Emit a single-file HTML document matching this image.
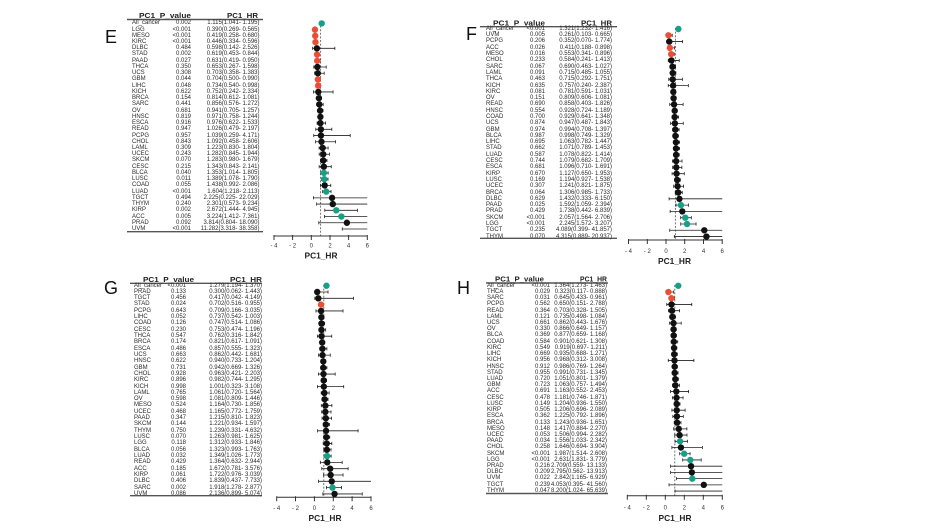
<!DOCTYPE html>
<html><head><meta charset="utf-8">
<style>
body{margin:0;background:#fff;width:941px;height:530px;overflow:hidden;position:relative;font-family:"Liberation Sans",Arial,sans-serif}
svg{position:absolute;left:0;top:0}
.c{position:absolute;font-size:6px;color:#2a2a2a;white-space:nowrap}
.r{text-align:right;width:90px}
.b{fill:none;stroke:#222;stroke-width:.8;vector-effect:non-scaling-stroke}
.ax{stroke:#333;stroke-width:1;fill:none}
.tl{stroke:#555;stroke-width:1.4}
.ds{stroke:#666;stroke-width:.9;stroke-dasharray:2 1.6}
.tk{font-size:6px;fill:#333;text-anchor:middle}
.lb{font-size:8.5px;font-weight:bold;fill:#222;text-anchor:middle}
.hd{font-size:7.5px;font-weight:bold;fill:#222}
.L{font-size:18px;fill:#111}
</style></head><body>
<svg width="941" height="530" viewBox="0 0 941 530">
<defs>
<ellipse id="dE" cx="0" cy="0" rx=".343" ry=".514"/>
<ellipse id="dF" cx="0" cy="0" rx=".3415" ry=".509"/>
<ellipse id="dG" cx="0" cy="0" rx=".339" ry=".507"/>
<ellipse id="dH" cx="0" cy="0" rx=".337" ry=".514"/>
</defs>
<rect width="941" height="530" fill="#fff"/>

<!-- Letters -->
<text class="L" x="105" y="43">E</text>
<text class="L" x="466" y="40">F</text>
<text class="L" x="104" y="294">G</text>
<text class="L" x="457" y="294">H</text>

<!-- Table headers & lines -->
<text class="hd" x="139" y="18" textLength="52" lengthAdjust="spacingAndGlyphs">PC1_P_value</text>
<text class="hd" x="227" y="18" textLength="31" lengthAdjust="spacingAndGlyphs">PC1_HR</text>
<line class="tl" x1="127" y1="19.5" x2="263" y2="19.5"/>
<line class="tl" x1="127" y1="231.7" x2="263" y2="231.7"/>

<text class="hd" x="493" y="25.5" textLength="52" lengthAdjust="spacingAndGlyphs">PC1_P_value</text>
<text class="hd" x="581" y="25.5" textLength="31" lengthAdjust="spacingAndGlyphs">PC1_HR</text>
<line class="tl" x1="480" y1="26.7" x2="617" y2="26.7"/>
<line class="tl" x1="480" y1="238.3" x2="617" y2="238.3"/>

<text class="hd" x="143" y="282" textLength="51" lengthAdjust="spacingAndGlyphs">PC1_P_value</text>
<text class="hd" x="230" y="282" textLength="32" lengthAdjust="spacingAndGlyphs">PC1_HR</text>
<line class="tl" x1="130" y1="283.3" x2="262" y2="283.3"/>
<line class="tl" x1="130" y1="495.7" x2="262" y2="495.7"/>

<text class="hd" x="495" y="281.5" textLength="49" lengthAdjust="spacingAndGlyphs">PC1_P_value</text>
<text class="hd" x="580" y="281.5" textLength="27" lengthAdjust="spacingAndGlyphs">PC1_HR</text>
<line class="tl" x1="486" y1="283" x2="608" y2="283"/>
<line class="tl" x1="486" y1="493.5" x2="608" y2="493.5"/>

<!-- Dashed reference lines -->
<line class="ds" x1="320.6" y1="22" x2="320.6" y2="236"/>
<line class="ds" x1="675.4" y1="28" x2="675.4" y2="240"/>
<line class="ds" x1="323.8" y1="285" x2="323.8" y2="497.3"/>
<line class="ds" x1="674.8" y1="285" x2="674.8" y2="495.7"/>

<!-- Axes E -->
<path class="ax" d="M274 236H367.3M274 235V240M292.6 235V240M311.3 235V240M330 235V240M348.6 235V240M367.3 235V240"/>
<text class="tk" x="274" y="247.5">- 4</text><text class="tk" x="292.6" y="247.5">- 2</text><text class="tk" x="311.3" y="247.5">0</text><text class="tk" x="330" y="247.5">2</text><text class="tk" x="348.6" y="247.5">4</text><text class="tk" x="367.3" y="247.5">6</text>
<text class="lb" x="321" y="258.5" textLength="33" lengthAdjust="spacingAndGlyphs">PC1_HR</text>
<!-- Axes F -->
<path class="ax" d="M628.5 240H722.2M628.5 239V244M647.3 239V244M666 239V244M684.7 239V244M703.5 239V244M722.2 239V244"/>
<text class="tk" x="628.5" y="253">- 4</text><text class="tk" x="647.3" y="253">- 2</text><text class="tk" x="666" y="253">0</text><text class="tk" x="684.7" y="253">2</text><text class="tk" x="703.5" y="253">4</text><text class="tk" x="722.2" y="253">6</text>
<text class="lb" x="674.5" y="264" textLength="33" lengthAdjust="spacingAndGlyphs">PC1_HR</text>
<!-- Axes G -->
<path class="ax" d="M276.7 497.3H371M276.7 496.3V501.3M295.5 496.3V501.3M314.4 496.3V501.3M333.3 496.3V501.3M352.1 496.3V501.3M371 496.3V501.3"/>
<text class="tk" x="276.7" y="510">- 4</text><text class="tk" x="295.5" y="510">- 2</text><text class="tk" x="314.4" y="510">0</text><text class="tk" x="333.3" y="510">2</text><text class="tk" x="352.1" y="510">4</text><text class="tk" x="371" y="510">6</text>
<text class="lb" x="325" y="521" textLength="33" lengthAdjust="spacingAndGlyphs">PC1_HR</text>
<!-- Axes H -->
<path class="ax" d="M627.3 495.7H722.3M627.3 494.7V499.7M646.3 494.7V499.7M665.3 494.7V499.7M684.3 494.7V499.7M703.3 494.7V499.7M722.3 494.7V499.7"/>
<text class="tk" x="627.3" y="509.5">- 4</text><text class="tk" x="646.3" y="509.5">- 2</text><text class="tk" x="665.3" y="509.5">0</text><text class="tk" x="684.3" y="509.5">2</text><text class="tk" x="703.3" y="509.5">4</text><text class="tk" x="722.3" y="509.5">6</text>
<text class="lb" x="675" y="521" textLength="33" lengthAdjust="spacingAndGlyphs">PC1_HR</text>

<!-- Panel E data -->
<g transform="translate(311.3 23.4) scale(9.33 6.23)">
<path class="b" d="M1.041 0H1.195m0-.25v.5M1.041-.25v.5M.269 1H.565m0-.25v.5M.269 .75v.5M.258 2H.68m0-.25v.5M.258 1.75v.5M.334 3H.596m0-.25v.5M.334 2.75v.5M.142 4H2.526m0-.25v.5M.142 3.75v.5M.453 5H.844m0-.25v.5M.453 4.75v.5M.419 6H.95m0-.25v.5M.419 5.75v.5M.267 7H1.598m0-.25v.5M.267 6.75v.5M.358 8H1.383m0-.25v.5M.358 7.75v.5M.5 9H.99m0-.25v.5M.5 8.75v.5M.54 10H.998m0-.25v.5M.54 9.75v.5M.242 11H2.334m0-.25v.5M.242 10.75v.5M.612 12H1.081m0-.25v.5M.612 11.75v.5M.576 13H1.272m0-.25v.5M.576 12.75v.5M.705 14H1.257m0-.25v.5M.705 13.75v.5M.758 15H1.244m0-.25v.5M.758 14.75v.5M.622 16H1.533m0-.25v.5M.622 15.75v.5M.479 17H2.197m0-.25v.5M.479 16.75v.5M.259 18H4.171m0-.25v.5M.259 17.75v.5M.458 19H2.606m0-.25v.5M.458 18.75v.5M.83 20H1.804m0-.25v.5M.83 19.75v.5M.845 21H1.944m0-.25v.5M.845 20.75v.5M.98 22H1.679m0-.25v.5M.98 21.75v.5M.843 23H2.141m0-.25v.5M.843 22.75v.5M1.014 24H1.805m0-.25v.5M1.014 23.75v.5M1.078 25H1.79m0-.25v.5M1.078 24.75v.5M.992 26H2.086m0-.25v.5M.992 25.75v.5M1.218 27H2.113m0-.25v.5M1.218 26.75v.5M.225 28H6M.225 27.75v.5M.573 29H6M.573 28.75v.5M1.444 30H4.945m0-.25v.5M1.444 29.75v.5M1.412 31H6M1.412 30.75v.5M.804 32H6M.804 31.75v.5M3.318 33H6M3.318 32.75v.5"/>
<g fill="#111">
<use href="#dE" x=".598" y="4"/><use href="#dE" x=".653" y="7"/><use href="#dE" x=".703" y="8"/><use href="#dE" x=".752" y="11"/><use href="#dE" x=".814" y="12"/><use href="#dE" x=".856" y="13"/><use href="#dE" x=".941" y="14"/><use href="#dE" x=".971" y="15"/><use href="#dE" x=".976" y="16"/><use href="#dE" x="1.026" y="17"/><use href="#dE" x="1.039" y="18"/><use href="#dE" x="1.092" y="19"/><use href="#dE" x="1.223" y="20"/><use href="#dE" x="1.282" y="21"/><use href="#dE" x="1.283" y="22"/><use href="#dE" x="1.343" y="23"/><use href="#dE" x="1.438" y="26"/><use href="#dE" x="2.225" y="28"/><use href="#dE" x="2.301" y="29"/><use href="#dE" x="3.814" y="32"/>
</g>
<g fill="#ea4f35">
<use href="#dE" x=".39" y="1"/><use href="#dE" x=".419" y="2"/><use href="#dE" x=".446" y="3"/><use href="#dE" x=".619" y="5"/><use href="#dE" x=".631" y="6"/><use href="#dE" x=".704" y="9"/><use href="#dE" x=".734" y="10"/>
</g>
<g fill="#17a085">
<use href="#dE" x="1.115" y="0"/><use href="#dE" x="1.353" y="24"/><use href="#dE" x="1.389" y="25"/><use href="#dE" x="1.604" y="27"/><use href="#dE" x="2.672" y="30"/><use href="#dE" x="3.224" y="31"/>
</g>
</g>

<!-- Panel F data -->
<g transform="translate(666 29) scale(9.37 6.29)">
<path class="b" d="M1.232 0H1.416m0-.25v.5M1.232-.25v.5M.103 1H.665m0-.25v.5M.103 .75v.5M.07 2H1.774m0-.25v.5M.07 1.75v.5M.188 3H.898m0-.25v.5M.188 2.75v.5M.341 4H.896m0-.25v.5M.341 3.75v.5M.241 5H1.413m0-.25v.5M.241 4.75v.5M.463 6H1.027m0-.25v.5M.463 5.75v.5M.485 7H1.055m0-.25v.5M.485 6.75v.5M.292 8H1.751m0-.25v.5M.292 7.75v.5M.24 9H2.387m0-.25v.5M.24 8.75v.5M.591 10H1.031m0-.25v.5M.591 9.75v.5M.606 11H1.081m0-.25v.5M.606 10.75v.5M.403 12H1.826m0-.25v.5M.403 11.75v.5M.724 13H1.189m0-.25v.5M.724 12.75v.5M.641 14H1.348m0-.25v.5M.641 13.75v.5M.487 15H1.843m0-.25v.5M.487 14.75v.5M.708 16H1.397m0-.25v.5M.708 15.75v.5M.749 17H1.329m0-.25v.5M.749 16.75v.5M.782 18H1.447m0-.25v.5M.782 17.75v.5M.789 19H1.453m0-.25v.5M.789 18.75v.5M.822 20H1.414m0-.25v.5M.822 19.75v.5M.682 21H1.709m0-.25v.5M.682 20.75v.5M.71 22H1.691m0-.25v.5M.71 21.75v.5M.65 23H1.953m0-.25v.5M.65 22.75v.5M.927 24H1.538m0-.25v.5M.927 23.75v.5M.821 25H1.875m0-.25v.5M.821 24.75v.5M.985 26H1.733m0-.25v.5M.985 25.75v.5M.333 27H6M.333 26.75v.5M1.059 28H2.394m0-.25v.5M1.059 27.75v.5M.442 29H6M.442 28.75v.5M1.564 30H2.706m0-.25v.5M1.564 29.75v.5M1.572 31H3.207m0-.25v.5M1.572 30.75v.5M.399 32H6M.399 31.75v.5M.889 33H6M.889 32.75v.5"/>
<g fill="#111">
<use href="#dF" x=".352" y="2"/><use href="#dF" x=".584" y="5"/><use href="#dF" x=".69" y="6"/><use href="#dF" x=".715" y="7"/><use href="#dF" x=".715" y="8"/><use href="#dF" x=".757" y="9"/><use href="#dF" x=".781" y="10"/><use href="#dF" x=".809" y="11"/><use href="#dF" x=".858" y="12"/><use href="#dF" x=".928" y="13"/><use href="#dF" x=".929" y="14"/><use href="#dF" x=".947" y="15"/><use href="#dF" x=".994" y="16"/><use href="#dF" x=".998" y="17"/><use href="#dF" x="1.063" y="18"/><use href="#dF" x="1.071" y="19"/><use href="#dF" x="1.078" y="20"/><use href="#dF" x="1.079" y="21"/><use href="#dF" x="1.096" y="22"/><use href="#dF" x="1.127" y="23"/><use href="#dF" x="1.194" y="24"/><use href="#dF" x="1.241" y="25"/><use href="#dF" x="1.306" y="26"/><use href="#dF" x="1.432" y="27"/><use href="#dF" x="1.738" y="29"/><use href="#dF" x="4.089" y="32"/><use href="#dF" x="4.315" y="33"/>
</g>
<g fill="#ea4f35">
<use href="#dF" x=".261" y="1"/><use href="#dF" x=".411" y="3"/><use href="#dF" x=".553" y="4"/>
</g>
<g fill="#17a085">
<use href="#dF" x="1.321" y="0"/><use href="#dF" x="1.592" y="28"/><use href="#dF" x="2.057" y="30"/><use href="#dF" x="2.245" y="31"/>
</g>
</g>

<!-- Panel G data -->
<g transform="translate(314.4 285.7) scale(9.43 6.31)">
<path class="b" d="M1.194 0H1.37m0-.25v.5M1.194-.25v.5M.062 1H1.443m0-.25v.5M.062 .75v.5M.042 2H4.149m0-.25v.5M.042 1.75v.5M.516 3H.955m0-.25v.5M.516 2.75v.5M.166 4H3.035m0-.25v.5M.166 3.75v.5M.542 5H1.003m0-.25v.5M.542 4.75v.5M.514 6H1.086m0-.25v.5M.514 5.75v.5M.474 7H1.196m0-.25v.5M.474 6.75v.5M.316 8H1.842m0-.25v.5M.316 7.75v.5M.617 9H1.091m0-.25v.5M.617 8.75v.5M.555 10H1.323m0-.25v.5M.555 9.75v.5M.442 11H1.681m0-.25v.5M.442 10.75v.5M.733 12H1.204m0-.25v.5M.733 11.75v.5M.669 13H1.326m0-.25v.5M.669 12.75v.5M.421 14H2.203m0-.25v.5M.421 13.75v.5M.744 15H1.295m0-.25v.5M.744 14.75v.5M.323 16H3.108m0-.25v.5M.323 15.75v.5M.72 17H1.564m0-.25v.5M.72 16.75v.5M.809 18H1.446m0-.25v.5M.809 17.75v.5M.73 19H1.856m0-.25v.5M.73 18.75v.5M.772 20H1.759m0-.25v.5M.772 19.75v.5M.81 21H1.823m0-.25v.5M.81 20.75v.5M.934 22H1.597m0-.25v.5M.934 21.75v.5M.331 23H4.632m0-.25v.5M.331 22.75v.5M.981 24H1.625m0-.25v.5M.981 23.75v.5M.933 25H1.846m0-.25v.5M.933 24.75v.5M.993 26H1.763m0-.25v.5M.993 25.75v.5M1.026 27H1.773m0-.25v.5M1.026 26.75v.5M.632 28H2.944m0-.25v.5M.632 27.75v.5M.781 29H3.576m0-.25v.5M.781 28.75v.5M.976 30H3.039m0-.25v.5M.976 29.75v.5M.437 31H6M.437 30.75v.5M1.278 32H2.877m0-.25v.5M1.278 31.75v.5M.899 33H5.074m0-.25v.5M.899 32.75v.5"/>
<g fill="#111">
<use href="#dG" x=".3" y="1"/><use href="#dG" x=".417" y="2"/><use href="#dG" x=".709" y="4"/><use href="#dG" x=".737" y="5"/><use href="#dG" x=".747" y="6"/><use href="#dG" x=".753" y="7"/><use href="#dG" x=".762" y="8"/><use href="#dG" x=".821" y="9"/><use href="#dG" x=".857" y="10"/><use href="#dG" x=".862" y="11"/><use href="#dG" x=".94" y="12"/><use href="#dG" x=".942" y="13"/><use href="#dG" x=".963" y="14"/><use href="#dG" x=".982" y="15"/><use href="#dG" x="1.001" y="16"/><use href="#dG" x="1.061" y="17"/><use href="#dG" x="1.081" y="18"/><use href="#dG" x="1.164" y="19"/><use href="#dG" x="1.165" y="20"/><use href="#dG" x="1.215" y="21"/><use href="#dG" x="1.221" y="22"/><use href="#dG" x="1.239" y="23"/><use href="#dG" x="1.263" y="24"/><use href="#dG" x="1.312" y="25"/><use href="#dG" x="1.323" y="26"/><use href="#dG" x="1.364" y="28"/><use href="#dG" x="1.672" y="29"/><use href="#dG" x="1.722" y="30"/><use href="#dG" x="1.839" y="31"/><use href="#dG" x="2.136" y="33"/>
</g>
<g fill="#ea4f35"><use href="#dG" x=".702" y="3"/></g>
<g fill="#17a085">
<use href="#dG" x="1.279" y="0"/><use href="#dG" x="1.349" y="27"/><use href="#dG" x="1.918" y="32"/>
</g>
</g>

<!-- Panel H data -->
<g transform="translate(665.3 285.8) scale(9.5 6.22)">
<path class="b" d="M1.273 0H1.463m0-.25v.5M1.273-.25v.5M.117 1H.888m0-.25v.5M.117 .75v.5M.433 2H.961m0-.25v.5M.433 1.75v.5M.151 3H2.788m0-.25v.5M.151 2.75v.5M.328 4H1.505m0-.25v.5M.328 3.75v.5M.498 5H1.084m0-.25v.5M.498 4.75v.5M.443 6H1.676m0-.25v.5M.443 5.75v.5M.649 7H1.157m0-.25v.5M.649 6.75v.5M.659 8H1.168m0-.25v.5M.659 7.75v.5M.621 9H1.308m0-.25v.5M.621 8.75v.5M.697 10H1.211m0-.25v.5M.697 9.75v.5M.688 11H1.271m0-.25v.5M.688 10.75v.5M.312 12H3.008m0-.25v.5M.312 11.75v.5M.769 13H1.264m0-.25v.5M.769 12.75v.5M.731 14H1.345m0-.25v.5M.731 13.75v.5M.801 15H1.379m0-.25v.5M.801 14.75v.5M.757 16H1.494m0-.25v.5M.757 15.75v.5M.552 17H2.453m0-.25v.5M.552 16.75v.5M.746 18H1.871m0-.25v.5M.746 17.75v.5M.936 19H1.55m0-.25v.5M.936 18.75v.5M.696 20H2.089m0-.25v.5M.696 19.75v.5M.792 21H1.896m0-.25v.5M.792 20.75v.5M.936 22H1.651m0-.25v.5M.936 21.75v.5M.884 23H2.27m0-.25v.5M.884 22.75v.5M.994 24H2.282m0-.25v.5M.994 23.75v.5M1.033 25H2.342m0-.25v.5M1.033 24.75v.5M.694 26H3.904m0-.25v.5M.694 25.75v.5M1.514 27H2.608m0-.25v.5M1.514 26.75v.5M1.831 28H3.779m0-.25v.5M1.831 27.75v.5M.559 29H6M.559 28.75v.5M.562 30H6M.562 29.75v.5M1.165 31H6M1.165 30.75v.5M.395 32H6M.395 31.75v.5M1.024 33H6M1.024 32.75v.5"/>
<g fill="#111">
<use href="#dH" x=".65" y="3"/><use href="#dH" x=".703" y="4"/><use href="#dH" x=".735" y="5"/><use href="#dH" x=".862" y="6"/><use href="#dH" x=".866" y="7"/><use href="#dH" x=".877" y="8"/><use href="#dH" x=".901" y="9"/><use href="#dH" x=".919" y="10"/><use href="#dH" x=".935" y="11"/><use href="#dH" x=".968" y="12"/><use href="#dH" x=".986" y="13"/><use href="#dH" x=".991" y="14"/><use href="#dH" x="1.051" y="15"/><use href="#dH" x="1.063" y="16"/><use href="#dH" x="1.163" y="17"/><use href="#dH" x="1.181" y="18"/><use href="#dH" x="1.204" y="19"/><use href="#dH" x="1.206" y="20"/><use href="#dH" x="1.225" y="21"/><use href="#dH" x="1.243" y="22"/><use href="#dH" x="1.417" y="23"/><use href="#dH" x="1.506" y="24"/><use href="#dH" x="1.646" y="26"/><use href="#dH" x="2.709" y="29"/><use href="#dH" x="2.795" y="30"/><use href="#dH" x="4.053" y="32"/>
</g>
<g fill="#ea4f35"><use href="#dH" x=".323" y="1"/><use href="#dH" x=".645" y="2"/></g>
<g fill="#17a085">
<use href="#dH" x="1.364" y="0"/><use href="#dH" x="1.556" y="25"/><use href="#dH" x="1.987" y="27"/><use href="#dH" x="2.631" y="28"/><use href="#dH" x="2.842" y="31"/>
</g>
</g>
</svg>

<!-- Panel E table -->
<div class="c" style="left:132px;top:20.3px;line-height:6.23px">All_cancer<br>LGG<br>MESO<br>KIRC<br>DLBC<br>STAD<br>PAAD<br>THCA<br>UCS<br>GBM<br>LIHC<br>KICH<br>BRCA<br>SARC<br>OV<br>HNSC<br>ESCA<br>READ<br>PCPG<br>CHOL<br>LAML<br>UCEC<br>SKCM<br>CESC<br>BLCA<br>LUSC<br>COAD<br>LUAD<br>TGCT<br>THYM<br>KIRP<br>ACC<br>PRAD<br>UVM</div>
<div class="c r" style="left:101px;top:20.3px;line-height:6.23px">0.002<br>&lt;0.001<br>&lt;0.001<br>&lt;0.001<br>0.484<br>0.002<br>0.027<br>0.350<br>0.308<br>0.044<br>0.048<br>0.622<br>0.154<br>0.441<br>0.681<br>0.819<br>0.916<br>0.947<br>0.957<br>0.843<br>0.309<br>0.243<br>0.070<br>0.215<br>0.040<br>0.011<br>0.055<br>&lt;0.001<br>0.494<br>0.240<br>0.002<br>0.005<br>0.092<br>&lt;0.001</div>
<div class="c r" style="left:169.5px;top:20.3px;line-height:6.23px">1.115(1.041- 1.195)<br>0.390(0.269- 0.565)<br>0.419(0.258- 0.680)<br>0.446(0.334- 0.596)<br>0.598(0.142- 2.526)<br>0.619(0.453- 0.844)<br>0.631(0.419- 0.950)<br>0.653(0.267- 1.598)<br>0.703(0.358- 1.383)<br>0.704(0.500- 0.990)<br>0.734(0.540- 0.998)<br>0.752(0.242- 2.334)<br>0.814(0.612- 1.081)<br>0.856(0.576- 1.272)<br>0.941(0.705- 1.257)<br>0.971(0.758- 1.244)<br>0.976(0.622- 1.533)<br>1.026(0.479- 2.197)<br>1.039(0.259- 4.171)<br>1.092(0.458- 2.606)<br>1.223(0.830- 1.804)<br>1.282(0.845- 1.944)<br>1.283(0.980- 1.679)<br>1.343(0.843- 2.141)<br>1.353(1.014- 1.805)<br>1.389(1.078- 1.790)<br>1.438(0.992- 2.086)<br>1.604(1.218- 2.113)<br>2.225(0.225- 22.029)<br>2.301(0.573- 9.234)<br>2.672(1.444- 4.945)<br>3.224(1.412- 7.361)<br>3.814(0.804- 18.090)<br>11.282(3.318- 38.358)</div>

<!-- Panel F table -->
<div class="c" style="left:486px;top:25.85px;line-height:6.29px">All_cancer<br>UVM<br>PCPG<br>ACC<br>MESO<br>CHOL<br>SARC<br>LAML<br>THCA<br>KICH<br>KIRC<br>OV<br>READ<br>HNSC<br>COAD<br>UCS<br>GBM<br>BLCA<br>LIHC<br>STAD<br>LUAD<br>CESC<br>ESCA<br>KIRP<br>LUSC<br>UCEC<br>BRCA<br>DLBC<br>PAAD<br>PRAD<br>SKCM<br>LGG<br>TGCT<br>THYM</div>
<div class="c r" style="left:455px;top:25.85px;line-height:6.29px">&lt;0.001<br>0.005<br>0.206<br>0.026<br>0.016<br>0.233<br>0.067<br>0.091<br>0.463<br>0.635<br>0.081<br>0.151<br>0.690<br>0.554<br>0.700<br>0.874<br>0.974<br>0.987<br>0.695<br>0.662<br>0.587<br>0.744<br>0.681<br>0.670<br>0.169<br>0.307<br>0.064<br>0.629<br>0.025<br>0.429<br>&lt;0.001<br>&lt;0.001<br>0.235<br>0.070</div>
<div class="c r" style="left:522px;top:25.85px;line-height:6.29px">1.321(1.232- 1.416)<br>0.261(0.103- 0.665)<br>0.352(0.070- 1.774)<br>0.411(0.188- 0.898)<br>0.553(0.341- 0.896)<br>0.584(0.241- 1.413)<br>0.690(0.463- 1.027)<br>0.715(0.485- 1.055)<br>0.715(0.292- 1.751)<br>0.757(0.240- 2.387)<br>0.781(0.591- 1.031)<br>0.809(0.606- 1.081)<br>0.858(0.403- 1.826)<br>0.928(0.724- 1.189)<br>0.929(0.641- 1.348)<br>0.947(0.487- 1.843)<br>0.994(0.708- 1.397)<br>0.998(0.749- 1.329)<br>1.063(0.782- 1.447)<br>1.071(0.789- 1.453)<br>1.078(0.822- 1.414)<br>1.079(0.682- 1.709)<br>1.096(0.710- 1.691)<br>1.127(0.650- 1.953)<br>1.194(0.927- 1.538)<br>1.241(0.821- 1.875)<br>1.306(0.985- 1.733)<br>1.432(0.333- 6.150)<br>1.592(1.059- 2.394)<br>1.738(0.442- 6.839)<br>2.057(1.564- 2.706)<br>2.245(1.572- 3.207)<br>4.089(0.399- 41.857)<br>4.315(0.889- 20.937)</div>

<!-- Panel G table -->
<div class="c" style="left:134px;top:282.5px;line-height:6.31px">All_cancer<br>PRAD<br>TGCT<br>STAD<br>PCPG<br>LIHC<br>COAD<br>CESC<br>THCA<br>BRCA<br>ESCA<br>UCS<br>HNSC<br>GBM<br>CHOL<br>KIRC<br>KICH<br>LAML<br>OV<br>MESO<br>UCEC<br>PAAD<br>SKCM<br>THYM<br>LUSC<br>LGG<br>BLCA<br>LUAD<br>READ<br>ACC<br>KIRP<br>DLBC<br>SARC<br>UVM</div>
<div class="c r" style="left:96px;top:282.5px;line-height:6.31px">&lt;0.001<br>0.133<br>0.456<br>0.024<br>0.643<br>0.052<br>0.126<br>0.230<br>0.547<br>0.174<br>0.486<br>0.663<br>0.622<br>0.731<br>0.928<br>0.896<br>0.998<br>0.765<br>0.598<br>0.524<br>0.468<br>0.347<br>0.144<br>0.750<br>0.070<br>0.118<br>0.056<br>0.032<br>0.429<br>0.185<br>0.061<br>0.406<br>0.002<br>0.086</div>
<div class="c r" style="left:172px;top:282.5px;line-height:6.31px">1.279(1.194- 1.370)<br>0.300(0.062- 1.443)<br>0.417(0.042- 4.149)<br>0.702(0.516- 0.955)<br>0.709(0.166- 3.035)<br>0.737(0.542- 1.003)<br>0.747(0.514- 1.086)<br>0.753(0.474- 1.196)<br>0.762(0.316- 1.842)<br>0.821(0.617- 1.091)<br>0.857(0.555- 1.323)<br>0.862(0.442- 1.681)<br>0.940(0.733- 1.204)<br>0.942(0.669- 1.326)<br>0.963(0.421- 2.203)<br>0.982(0.744- 1.295)<br>1.001(0.323- 3.108)<br>1.061(0.720- 1.564)<br>1.081(0.809- 1.446)<br>1.164(0.730- 1.856)<br>1.165(0.772- 1.759)<br>1.215(0.810- 1.823)<br>1.221(0.934- 1.597)<br>1.239(0.331- 4.632)<br>1.263(0.981- 1.625)<br>1.312(0.933- 1.846)<br>1.323(0.993- 1.763)<br>1.349(1.026- 1.773)<br>1.364(0.632- 2.944)<br>1.672(0.781- 3.576)<br>1.722(0.976- 3.039)<br>1.839(0.437- 7.733)<br>1.918(1.278- 2.877)<br>2.136(0.899- 5.074)</div>

<!-- Panel H table -->
<div class="c" style="left:487px;top:282.7px;line-height:6.22px">All_cancer<br>THCA<br>SARC<br>PCPG<br>READ<br>LAML<br>UCS<br>OV<br>BLCA<br>COAD<br>KIRC<br>LIHC<br>KICH<br>HNSC<br>STAD<br>LUAD<br>GBM<br>ACC<br>CESC<br>LUSC<br>KIRP<br>ESCA<br>BRCA<br>MESO<br>UCEC<br>PAAD<br>CHOL<br>SKCM<br>LGG<br>PRAD<br>DLBC<br>UVM<br>TGCT<br>THYM</div>
<div class="c r" style="left:460px;top:282.7px;line-height:6.22px">&lt;0.001<br>0.029<br>0.031<br>0.562<br>0.364<br>0.121<br>0.661<br>0.330<br>0.369<br>0.584<br>0.549<br>0.669<br>0.956<br>0.912<br>0.955<br>0.720<br>0.723<br>0.691<br>0.478<br>0.149<br>0.505<br>0.362<br>0.133<br>0.148<br>0.053<br>0.034<br>0.258<br>&lt;0.001<br>&lt;0.001<br>0.216<br>0.209<br>0.022<br>0.239<br>0.047</div>
<div class="c r" style="left:517px;top:282.7px;line-height:6.22px">1.364(1.273- 1.463)<br>0.323(0.117- 0.888)<br>0.645(0.433- 0.961)<br>0.650(0.151- 2.788)<br>0.703(0.328- 1.505)<br>0.735(0.498- 1.084)<br>0.862(0.443- 1.676)<br>0.866(0.649- 1.157)<br>0.877(0.659- 1.168)<br>0.901(0.621- 1.308)<br>0.919(0.697- 1.211)<br>0.935(0.688- 1.271)<br>0.968(0.312- 3.008)<br>0.986(0.769- 1.264)<br>0.991(0.731- 1.345)<br>1.051(0.801- 1.379)<br>1.063(0.757- 1.494)<br>1.163(0.552- 2.453)<br>1.181(0.746- 1.871)<br>1.204(0.936- 1.550)<br>1.206(0.696- 2.089)<br>1.225(0.792- 1.896)<br>1.243(0.936- 1.651)<br>1.417(0.884- 2.270)<br>1.506(0.994- 2.282)<br>1.556(1.033- 2.342)<br>1.646(0.694- 3.904)<br>1.987(1.514- 2.608)<br>2.631(1.831- 3.779)<br>2.709(0.559- 13.133)<br>2.795(0.562- 13.913)<br>2.842(1.165- 6.929)<br>4.053(0.395- 41.560)<br>8.200(1.024- 65.639)</div>
</body></html>
